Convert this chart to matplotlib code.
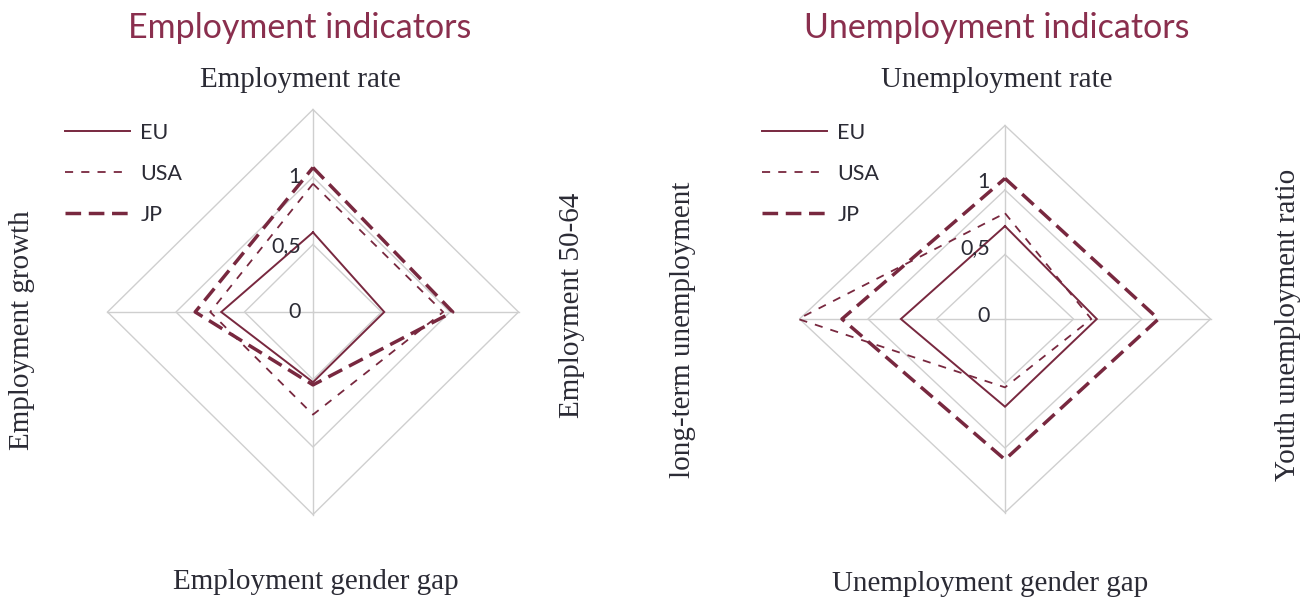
import numpy as np
import matplotlib
matplotlib.use("Agg")
import matplotlib.pyplot as plt

# ---------------- data ----------------
emp_categories = ["Employment rate", "Employment 50-64", "Employment gender gap", "Employment growth"]
emp_eu = [0.59, 0.52, 0.52, 0.67]
emp_usa = [0.95, 0.95, 0.76, 0.75]
emp_jp = [1.07, 1.02, 0.54, 0.86]

unemp_categories = ["Unemployment rate", "Youth unemployment ratio", "Unemployment gender gap", "long-term unemployment"]
unemp_eu = [0.72, 0.67, 0.68, 0.76]
unemp_usa = [0.82, 0.63, 0.53, 1.51]
unemp_jp = [1.09, 1.12, 1.09, 1.19]

series_names = ["EU", "USA", "JP"]
ring_levels = [0.5, 1.0, 1.5]
tick_labels = ["0", "0,5", "1"]
tick_values = [0.0, 0.5, 1.0]

# ---------------- style ----------------
W, H = 1306, 601
MAROON = "#78283f"
TITLE_C = "#8a2f4e"
GRID_C = "#cfcfcf"
TEXT_C = "#2b2b35"
SERIF = ["Liberation Serif", "DejaVu Serif"]
SANS = ["Lato", "DejaVu Sans"]

styles = [
    dict(color=MAROON, lw=1.4, ls="-"),
    dict(color=MAROON, lw=1.3, ls=(0, (4.5, 4.5))),
    dict(color=MAROON, lw=2.5, ls=(0, (4.5, 2.2))),
]

fig = plt.figure(figsize=(W / 100, H / 100), dpi=100)
fig.patch.set_facecolor("white")

angles = np.array([0, np.pi / 2, np.pi, 3 * np.pi / 2])


def to_xy(vals):
    v = np.asarray(vals, dtype=float)
    x = v * np.sin(angles)
    y = v * np.cos(angles)
    return np.append(x, x[0]), np.append(y, y[0])


def make_ax(cx, cy, hs, vs):
    lim = 1.6
    w = 2 * lim * hs
    h = 2 * lim * vs
    ax = fig.add_axes([(cx - w / 2) / W, (H - cy - h / 2) / H, w / W, h / H])
    ax.set_xlim(-lim, lim)
    ax.set_ylim(-lim, lim)
    ax.axis("off")
    return ax


def draw(ax, series, tick_dx, tick_dy):
    # grid rings
    for r in ring_levels:
        gx, gy = to_xy([r] * 4)
        ax.plot(gx, gy, color=GRID_C, lw=1.0, zorder=1)
    # spokes
    for a in angles:
        ax.plot([0, ring_levels[-1] * np.sin(a)], [0, ring_levels[-1] * np.cos(a)],
                color=GRID_C, lw=1.0, zorder=1)
    lines = []
    for vals, st, name in zip(series, styles, series_names):
        x, y = to_xy(vals)
        ln, = ax.plot(x, y, label=name, zorder=3, solid_joinstyle="miter",
                      dash_capstyle="butt", **st)
        lines.append(ln)
    for tv, tl, dy in zip(tick_values, tick_labels, tick_dy):
        ax.text(tick_dx, tv + dy, tl, ha="right", va="center", fontsize=15.5,
                color=TEXT_C, family=SANS, zorder=4)
    return lines


# left chart
axL = make_ax(313, 312, 137, 135)
linesL = draw(axL, [emp_eu, emp_usa, emp_jp], -0.09, [0.0, -0.01, -0.0])
# right chart
axR = make_ax(1005, 319, 137, 129)
linesR = draw(axR, [unemp_eu, unemp_usa, unemp_jp], -0.11, [0.02, 0.05, 0.06])

for ax, x0 in [(axL, 65), (axR, 762)]:
    leg = ax.legend(loc="upper left", bbox_to_anchor=(x0 / W, 1 - 123 / H),
                    bbox_transform=fig.transFigure, frameon=False,
                    borderpad=0, borderaxespad=0, handlelength=3.0,
                    handletextpad=0.5, labelspacing=0.97,
                    prop=dict(family=SANS, size=15.5))
    for t in leg.get_texts():
        t.set_color(TEXT_C)


def ftext(px, py, s, **kw):
    fig.text(px / W, 1 - py / H, s, **kw)


# titles
ftext(300, 28, "Employment indicators", ha="center", va="center", fontsize=24.5,
      color=TITLE_C, family=SANS)
ftext(997, 28, "Unemployment indicators", ha="center", va="center", fontsize=24.5,
      color=TITLE_C, family=SANS)

lab = dict(fontsize=21, color=TEXT_C, family=SERIF, ha="center", va="center")
ftext(300, 80, emp_categories[0], **lab)
ftext(572, 305, emp_categories[1], rotation=90, **lab)
ftext(316, 582, emp_categories[2], **lab)
ftext(22, 330, emp_categories[3], rotation=90, **lab)

ftext(997, 80, unemp_categories[0], **lab)
ftext(1288, 325, unemp_categories[1], rotation=90, **lab)
ftext(990, 584, unemp_categories[2], **lab)
ftext(683, 330, unemp_categories[3], rotation=90, **lab)

fig.savefig("out.png", dpi=100, facecolor="white")
